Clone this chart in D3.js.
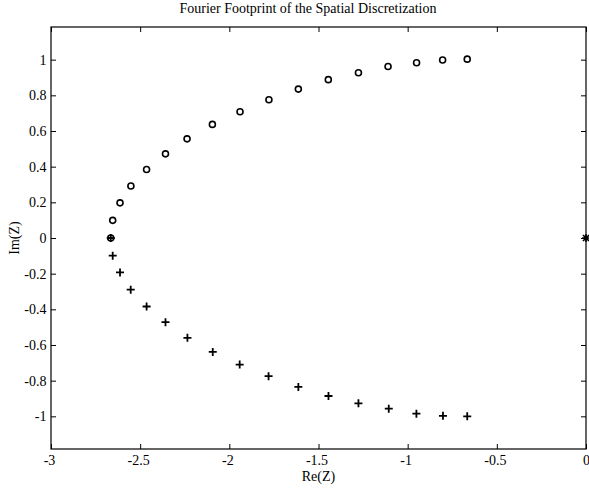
<!DOCTYPE html>
<html>
<head>
<meta charset="utf-8">
<script src="https://cdn.jsdelivr.net/npm/d3@7"></script>
<style>
  body { margin: 0; background: #fff; }
  text { font-family: "Liberation Serif", "Times New Roman", serif; fill: #000; }
</style>
</head>
<body>
<div id="chart"></div>
<script>
// eigenvalues (upper half: circles, lower half: pluses)
var circleRe = [-2.665, -2.654, -2.613, -2.552, -2.464, -2.358, -2.237, -2.095, -1.940, -1.778, -1.613, -1.445, -1.276, -1.110, -0.950, -0.804, -0.666];
var circleIm = [0, 0.099, 0.197, 0.292, 0.384, 0.472, 0.556, 0.637, 0.708, 0.775, 0.835, 0.888, 0.927, 0.962, 0.983, 0.998, 1.003];
var plusRe = [-2.665, -2.654, -2.613, -2.553, -2.464, -2.358, -2.235, -2.093, -1.942, -1.780, -1.613, -1.444, -1.276, -1.106, -0.951, -0.802, -0.666];
var plusIm = [0, -0.099, -0.193, -0.290, -0.384, -0.472, -0.560, -0.639, -0.710, -0.775, -0.835, -0.886, -0.927, -0.957, -0.985, -0.997, -1.0];
var starRe = [0];
var starIm = [0];

var xTicks = [-3, -2.5, -2, -1.5, -1, -0.5, 0];
var yTicks = [-1, -0.8, -0.6, -0.4, -0.2, 0, 0.2, 0.4, 0.6, 0.8, 1];

var width = 589, height = 490;
var padL = 51, padR = 586, padT = 27, padB = 449;

var svg = d3.select("#chart").append("svg")
    .attr("width", width)
    .attr("height", height);

var x = d3.scaleLinear().domain([-3, 0]).range([padL, padR]);
// axis equal: same px per unit as x
var yHalf = (padB - padT) / 2 / ((padR - padL) / 3);
var y = d3.scaleLinear().domain([-yHalf, yHalf]).range([padB, padT]);

// plain hyphen minus like the original
var fmt = function(d) { return String(+d.toFixed(1)); };

// axes (ticks pointing inward on all four sides)
var xAxisG = svg.append("g")
    .attr("transform", "translate(0," + padB + ")")
    .call(d3.axisBottom(x).tickValues(xTicks).tickSize(-5).tickPadding(6).tickFormat(fmt));
svg.append("g")
    .attr("transform", "translate(0," + padT + ")")
    .call(d3.axisTop(x).tickValues(xTicks).tickSize(-5).tickFormat(""));
svg.append("g")
    .attr("transform", "translate(" + padL + ",0)")
    .call(d3.axisLeft(y).tickValues(yTicks).tickSize(-5).tickPadding(4.5).tickFormat(fmt));
svg.append("g")
    .attr("transform", "translate(" + padR + ",0)")
    .call(d3.axisRight(y).tickValues(yTicks).tickSize(-5).tickFormat(""));

svg.selectAll(".domain").remove();
svg.selectAll(".tick line").attr("stroke", "#000");
svg.selectAll(".tick text")
    .attr("font-family", "Liberation Serif, serif")
    .attr("font-size", 14)
    .attr("fill", "#000");
xAxisG.selectAll(".tick text")
    .attr("dx", function(d) { return d < 0 ? -2 : 0; });

svg.append("rect")
    .attr("x", padL).attr("y", padT)
    .attr("width", padR - padL).attr("height", padB - padT)
    .attr("fill", "none")
    .attr("stroke", "#000")
    .attr("stroke-width", 1.2);

// markers
var circles = circleRe.map(function(d, i) { return [d, circleIm[i]]; });
var pluses = plusRe.map(function(d, i) { return [d, plusIm[i]]; });
var stars = starRe.map(function(d, i) { return [d, starIm[i]]; });

svg.selectAll(".circ")
    .data(circles)
    .enter().append("circle")
    .attr("class", "circ")
    .attr("cx", function(d) { return x(d[0]); })
    .attr("cy", function(d) { return y(d[1]); })
    .attr("r", 3)
    .attr("fill", "none")
    .attr("stroke", "#000")
    .attr("stroke-width", 1.6);

svg.selectAll(".plus")
    .data(pluses)
    .enter().append("path")
    .attr("class", "plus")
    .attr("d", function(d) {
        var cx = x(d[0]), cy = y(d[1]), s = 4;
        return "M" + (cx - s) + "," + cy + "H" + (cx + s) + "M" + cx + "," + (cy - s) + "V" + (cy + s);
    })
    .attr("stroke", "#000")
    .attr("stroke-width", 1.8);

svg.selectAll(".star")
    .data(stars)
    .enter().append("path")
    .attr("class", "star")
    .attr("d", function(d) {
        var cx = x(d[0]), cy = y(d[1]), s = 4, t = 3;
        return "M" + (cx - s) + "," + cy + "H" + (cx + s) + "M" + cx + "," + (cy - s) + "V" + (cy + s) +
            "M" + (cx - t) + "," + (cy - t) + "L" + (cx + t) + "," + (cy + t) +
            "M" + (cx - t) + "," + (cy + t) + "L" + (cx + t) + "," + (cy - t);
    })
    .attr("stroke", "#000")
    .attr("stroke-width", 1.6);

// labels
svg.append("text")
    .attr("x", 308)
    .attr("y", 13)
    .attr("text-anchor", "middle")
    .style("font-size", "14px")
    .text("Fourier Footprint of the Spatial Discretization");

svg.append("text")
    .attr("x", (padL + padR) / 2)
    .attr("y", 481)
    .attr("text-anchor", "middle")
    .style("font-size", "14px")
    .text("Re(Z)");

svg.append("text")
    .attr("transform", "translate(18.5," + ((padT + padB) / 2) + ") rotate(-90)")
    .attr("text-anchor", "middle")
    .style("font-size", "14px")
    .text("Im(Z)");
</script>
</body>
</html>
